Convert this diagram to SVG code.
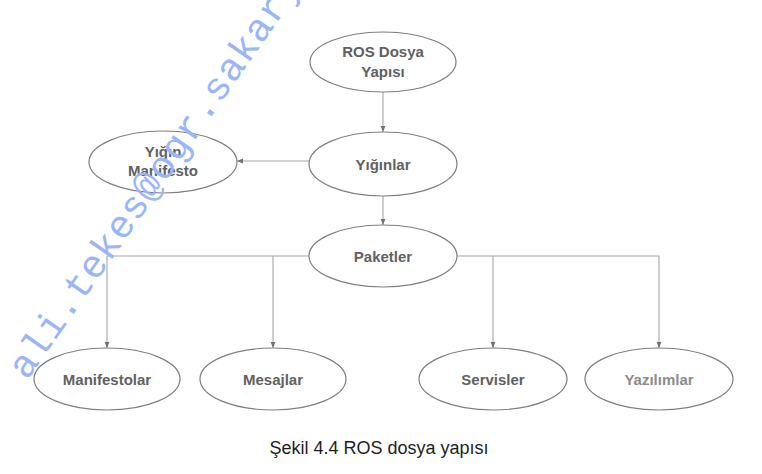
<svg xmlns="http://www.w3.org/2000/svg" width="762" height="474" viewBox="0 0 762 474">
<style>
.node ellipse{fill:#fff;stroke:#7f7f7f;stroke-width:1.2}
.node text{font-family:"Liberation Sans",Arial,sans-serif;font-weight:bold;font-size:15px;fill:#616161;text-anchor:middle}
.conn{fill:none;stroke:#a6a6a6;stroke-width:1.1}
.cap{font-family:"Liberation Sans",Arial,sans-serif;font-size:18px;fill:#1e1e1e;text-anchor:middle}
.wm{font-family:"Liberation Mono","Courier New",monospace;font-size:39px;fill:#9ab6f6}
</style>
<defs>
<marker id="arr" viewBox="0 0 10 10" refX="10" refY="5" markerWidth="6" markerHeight="6" orient="auto" markerUnits="userSpaceOnUse">
<path d="M0,1 L10,5 L0,9 z" fill="#707070"/>
</marker>
</defs>
<rect width="762" height="474" fill="#fff"/>
<g id="connectors">
<line class="conn" x1="383" y1="92" x2="383" y2="132" marker-end="url(#arr)"/>
<line class="conn" x1="383" y1="196" x2="383" y2="225" marker-end="url(#arr)"/>
<line class="conn" x1="309" y1="161" x2="237" y2="161" marker-end="url(#arr)"/>
<polyline class="conn" points="309,256 107,256 107,348" marker-end="url(#arr)"/>
<line class="conn" x1="273" y1="256" x2="273" y2="348" marker-end="url(#arr)"/>
<polyline class="conn" points="457,256 659,256 659,348" marker-end="url(#arr)"/>
<line class="conn" x1="493" y1="256" x2="493" y2="348" marker-end="url(#arr)"/>
</g>
<g id="ros" class="node"><ellipse cx="383" cy="62" rx="73" ry="30"/><text x="383" y="57">ROS Dosya</text><text x="383" y="77">Yapısı</text></g>
<g id="yiginlar" class="node"><ellipse cx="383" cy="164" rx="74" ry="32"/><text x="383" y="170">Yığınlar</text></g>
<g id="yiginmanifesto" class="node"><ellipse cx="163" cy="162" rx="74" ry="31"/><text x="163" y="157">Yığın</text><text x="163" y="176">Manifesto</text></g>
<g id="paketler" class="node"><ellipse cx="383" cy="256" rx="74" ry="31"/><text x="383" y="262">Paketler</text></g>
<g id="manifestolar" class="node"><ellipse cx="107" cy="379" rx="73" ry="31"/><text x="107" y="385">Manifestolar</text></g>
<g id="mesajlar" class="node"><ellipse cx="273" cy="379" rx="73" ry="31"/><text x="273" y="385">Mesajlar</text></g>
<g id="servisler" class="node"><ellipse cx="493" cy="379" rx="74" ry="31"/><text x="493" y="385">Servisler</text></g>
<g id="yazilimlar" class="node"><ellipse cx="659" cy="379" rx="74" ry="31"/><text x="659" y="385" style="fill:#8c8c8c">Yazılımlar</text></g>
<text class="cap" x="379" y="454">Şekil 4.4 ROS dosya yapısı</text>
<text class="wm" transform="translate(27,381) rotate(-55.1)" letter-spacing="0.7">ali.tekes@ogr.sakarya.edu.tr</text>
</svg>
